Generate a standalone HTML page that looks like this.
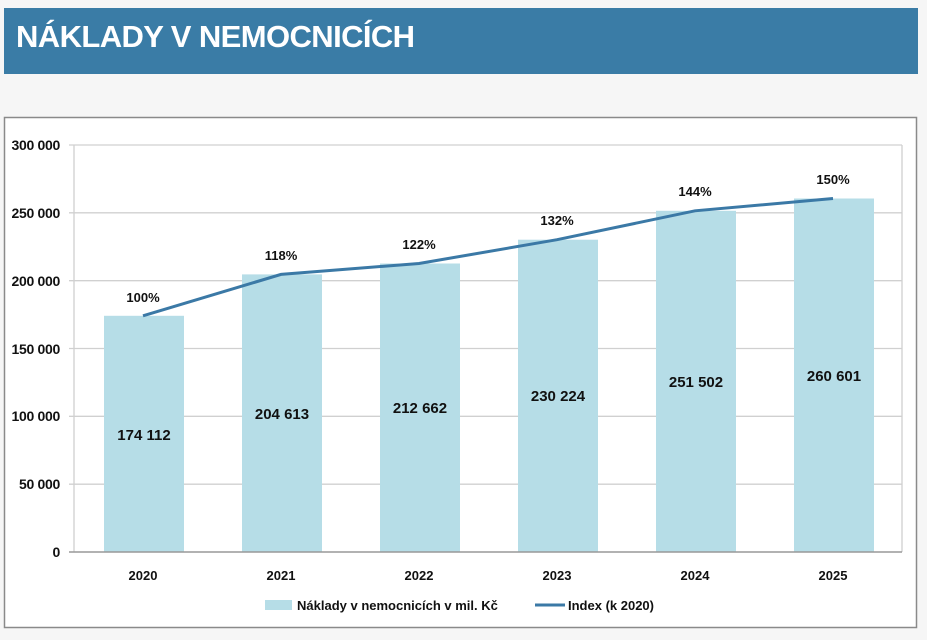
<!DOCTYPE html>
<html><head><meta charset="utf-8"><style>
body{margin:0;width:927px;height:640px;background:#f6f6f6;overflow:hidden;font-family:"Liberation Sans",Arial,sans-serif}
.t{position:absolute;left:4px;top:8px;width:914px;height:66px;background:#3a7ca6}
.t span{position:absolute;left:12px;top:11px;color:#fff;font-weight:bold;font-size:31px;letter-spacing:-0.6px}
</style></head><body>
<div class="t"><span>NÁKLADY V NEMOCNICÍCH</span></div>
<svg style="position:absolute;left:0;top:0" width="927" height="640" font-family="Liberation Sans, Arial, sans-serif" font-weight="bold">
<rect x="4.5" y="117.5" width="912" height="510" fill="#fff" stroke="#8a8a8a" stroke-width="1.5"/>
<g stroke="#d0d0d0" stroke-width="1.3">
<line x1="69" y1="145" x2="902" y2="145"/><line x1="69" y1="212.8" x2="902" y2="212.8"/>
<line x1="69" y1="280.7" x2="902" y2="280.7"/><line x1="69" y1="348.5" x2="902" y2="348.5"/>
<line x1="69" y1="416.3" x2="902" y2="416.3"/><line x1="69" y1="484.2" x2="902" y2="484.2"/>
<line x1="74" y1="145" x2="74" y2="552"/><line x1="902" y1="145" x2="902" y2="552"/>
</g>
<g font-size="14" fill="#111" text-anchor="end" letter-spacing="-0.3">
<text x="60" y="150">300 000</text><text x="60" y="218">250 000</text><text x="60" y="286">200 000</text>
<text x="60" y="354">150 000</text><text x="60" y="421">100 000</text><text x="60" y="489">50 000</text><text x="60" y="557">0</text>
</g>
<g fill="#b6dde7">
<rect x="104" y="315.8" width="80" height="236.2"/>
<rect x="242" y="274.4" width="80" height="277.6"/>
<rect x="380" y="263.5" width="80" height="288.5"/>
<rect x="518" y="239.7" width="80" height="312.3"/>
<rect x="656" y="210.8" width="80" height="341.2"/>
<rect x="794" y="198.5" width="80" height="353.5"/>
</g>
<line x1="69" y1="552" x2="902" y2="552" stroke="#999" stroke-width="1.5"/>
<polyline points="143,315.8 281,274.4 419,263.5 557,239.7 695,210.8 833,198.5" fill="none" stroke="#3b79a6" stroke-width="3"/>
<g font-size="15" fill="#111" text-anchor="middle">
<text x="144" y="440">174 112</text><text x="282" y="419">204 613</text><text x="420" y="413">212 662</text>
<text x="558" y="401">230 224</text><text x="696" y="387">251 502</text><text x="834" y="381">260 601</text>
</g>
<g font-size="13" fill="#111" text-anchor="middle">
<text x="143" y="302">100%</text><text x="281" y="260">118%</text><text x="419" y="249">122%</text>
<text x="557" y="225">132%</text><text x="695" y="196">144%</text><text x="833" y="184">150%</text>
<text x="143" y="580">2020</text><text x="281" y="580">2021</text><text x="419" y="580">2022</text>
<text x="557" y="580">2023</text><text x="695" y="580">2024</text><text x="833" y="580">2025</text>
</g>
<rect x="265" y="600" width="27" height="10" fill="#b6dde7"/>
<text x="297" y="610" font-size="13" fill="#111">Náklady v nemocnicích v mil. Kč</text>
<line x1="535" y1="605" x2="565" y2="605" stroke="#3b79a6" stroke-width="3"/>
<text x="568" y="610" font-size="13" fill="#111">Index (k 2020)</text>
</svg>
</body></html>
